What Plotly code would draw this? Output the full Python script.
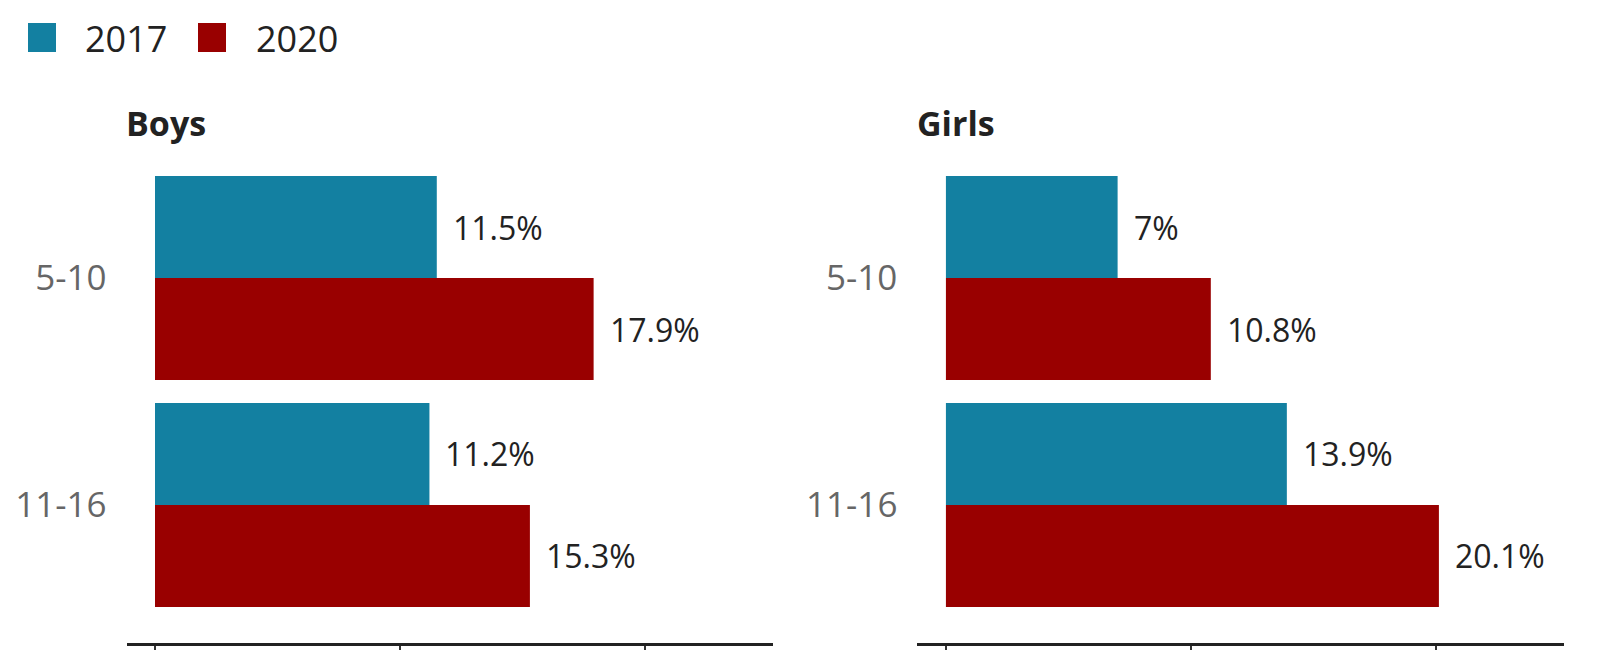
import plotly.graph_objects as go

age_groups = ["5-10", "11-16"]
years = ["2017", "2020"]
boys_2017 = [11.5, 11.2]
boys_2020 = [17.9, 15.3]
girls_2017 = [7.0, 13.9]
girls_2020 = [10.8, 20.1]
panel_titles = ["Boys", "Girls"]
x_tick_vals = [0, 10, 20]

C2017 = "#1380A1"
C2020 = "#990000"
TXT = "#222222"
FONT = "Open Sans"
W, H = 1600, 650

fig = go.Figure()

panels = [
    ("x", "y", boys_2017, boys_2020),
    ("x2", "y2", girls_2017, girls_2020),
]
for xa, ya, v17, v20 in panels:
    fig.add_trace(go.Bar(y=age_groups, x=v17, orientation="h", name=years[0],
                         marker=dict(color=C2017, line=dict(width=0)),
                         xaxis=xa, yaxis=ya, showlegend=False, hoverinfo="x"))
    fig.add_trace(go.Bar(y=age_groups, x=v20, orientation="h", name=years[1],
                         marker=dict(color=C2020, line=dict(width=0)),
                         xaxis=xa, yaxis=ya, showlegend=False, hoverinfo="x"))
    for vals, ysh in ((v17, 51), (v20, -51)):
        for cat, v in zip(age_groups, vals):
            fig.add_annotation(x=v, y=cat, xref=xa, yref=ya, text=f"{v:g}%",
                               showarrow=False, xanchor="left", yanchor="middle",
                               xshift=14, yshift=ysh,
                               font=dict(family=FONT, size=32, color=TXT))

xr = [-1.163, 25.2]
yr = [1.608, -0.5]
common_x = dict(range=xr, showgrid=False, zeroline=False, showline=True,
                linecolor="#222222", linewidth=3, ticks="outside", ticklen=14,
                tickwidth=2, tickcolor="#333333", tickvals=x_tick_vals,
                showticklabels=False, automargin=False, fixedrange=True)
common_y = dict(range=yr, showgrid=False, zeroline=False, showline=False,
                ticks="", automargin=False, ticklabelstandoff=19, fixedrange=True,
                tickfont=dict(family=FONT, size=35, color="#666666"))

dom_y = [(H - 643) / H, (H - 164.5) / H]
fig.update_layout(
    width=W, height=H,
    margin=dict(l=0, r=0, t=0, b=0),
    paper_bgcolor="white", plot_bgcolor="white",
    barmode="group", bargap=0.101, bargroupgap=0,
    xaxis=dict(domain=[126.5 / W, 772.5 / W], anchor="y", **common_x),
    yaxis=dict(domain=dom_y, anchor="x", **common_y),
    xaxis2=dict(domain=[917.4 / W, 1564 / W], anchor="y2", **common_x),
    yaxis2=dict(domain=dom_y, anchor="x2", **common_y),
    showlegend=False,
)

# Panel titles
for title, x0 in zip(panel_titles, [124, 915]):
    fig.add_annotation(x=x0 / W, y=1 - 123.5 / H, xref="paper", yref="paper",
                       text=f"<b>{title}</b>", showarrow=False,
                       xanchor="left", yanchor="middle",
                       font=dict(family=FONT, size=34, color=TXT))

# Legend (drawn manually)
for label, color, sx, tx in ((years[0], C2017, 28, 83), (years[1], C2020, 198, 254)):
    fig.add_shape(type="rect", xref="paper", yref="paper",
                  x0=sx / W, x1=(sx + 28) / W, y0=1 - 52 / H, y1=1 - 23 / H,
                  fillcolor=color, line=dict(width=0))
    fig.add_annotation(x=tx / W, y=1 - 38.5 / H, xref="paper", yref="paper",
                       text=label, showarrow=False, xanchor="left", yanchor="middle",
                       font=dict(family=FONT, size=36, color=TXT))

fig.write_html("out.html", config={"displayModeBar": False},
               post_script="document.body.style.margin='0';document.body.style.padding='0';")
